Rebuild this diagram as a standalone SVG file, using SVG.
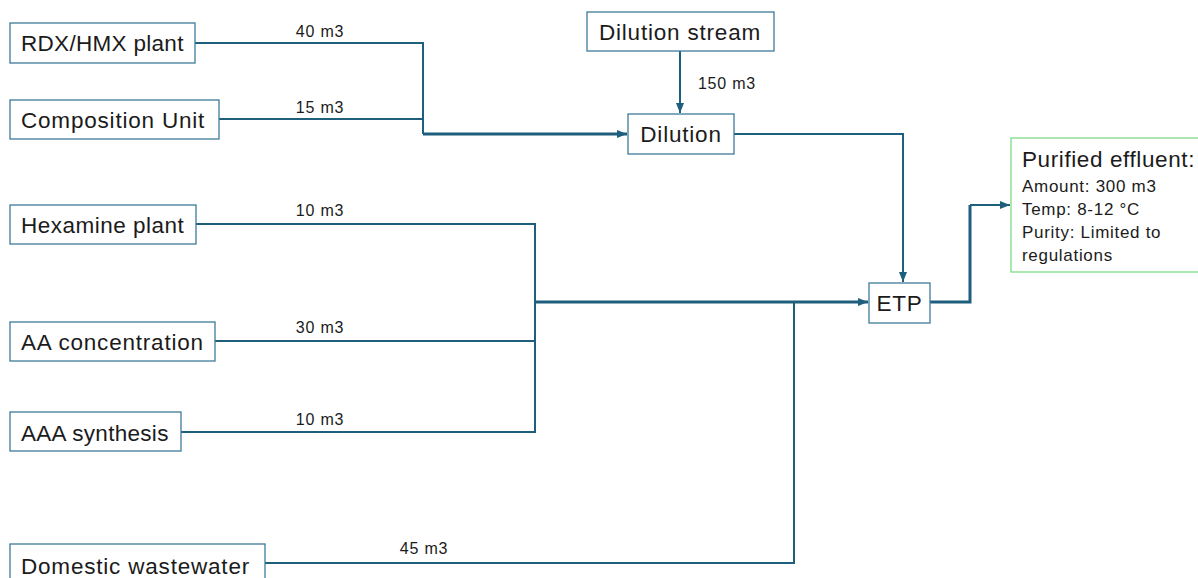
<svg xmlns="http://www.w3.org/2000/svg" width="1198" height="578" viewBox="0 0 1198 578">
<style>
.box{fill:#fff;stroke:#3e7a98;stroke-width:1.3}
.gbox{fill:#fff;stroke:#7ddc86;stroke-width:1.3}
.t{font-family:"Liberation Sans",Arial,sans-serif;font-size:22.5px;letter-spacing:0.8px;fill:#1b1b1b}
.s{font-family:"Liberation Sans",Arial,sans-serif;font-size:16px;letter-spacing:0.8px;fill:#1b1b1b}
.p{font-family:"Liberation Sans",Arial,sans-serif;font-size:17px;letter-spacing:0.7px;fill:#1b1b1b}
.ln{fill:none;stroke:#1f5f7e;stroke-width:2}
.lm{fill:none;stroke:#1f5f7e;stroke-width:3}
</style>
<defs>
<marker id="a" viewBox="0 0 10 10" refX="10" refY="5" markerWidth="10" markerHeight="10" orient="auto" markerUnits="userSpaceOnUse">
<path d="M0,1 L10,5 L0,9 z" fill="#1f5f7e"/>
</marker>
</defs>
<rect width="1198" height="578" fill="#fff"/>
<g id="connectors">
<polyline class="ln" points="195,43 423,43 423,134"/>
<polyline class="ln" points="219,119 423,119"/>
<polyline class="lm" points="423,134 627,134" marker-end="url(#a)"/>
<polyline class="ln" points="680,51 680,113" marker-end="url(#a)"/>
<polyline class="ln" points="734,134 903,134 903,282" marker-end="url(#a)"/>
<polyline class="ln" points="196,224 535,224 535,432 181,432"/>
<polyline class="ln" points="215,341 535,341"/>
<polyline class="lm" points="535,302 868,302" marker-end="url(#a)"/>
<polyline class="ln" points="265,563 794,563 794,302"/>
<polyline class="lm" points="930,302 970,302 970,205"/>
<polyline class="ln" points="970,205 1010,205" marker-end="url(#a)"/>
<text class="s" x="320" y="37" text-anchor="middle">40 m3</text>
<text class="s" x="320" y="113" text-anchor="middle">15 m3</text>
<text class="s" x="727" y="89" text-anchor="middle">150 m3</text>
<text class="s" x="320" y="216" text-anchor="middle">10 m3</text>
<text class="s" x="320" y="333" text-anchor="middle">30 m3</text>
<text class="s" x="320" y="425" text-anchor="middle">10 m3</text>
<text class="s" x="424" y="554" text-anchor="middle">45 m3</text>
</g>
<g id="rdx"><rect class="box" x="10" y="23" width="185" height="40"/><text class="t" x="21" y="51" style="letter-spacing:0.3px">RDX/HMX plant</text></g>
<g id="comp"><rect class="box" x="10" y="100" width="209" height="39"/><text class="t" x="21" y="128">Composition Unit</text></g>
<g id="dilstream"><rect class="box" x="587" y="12" width="187" height="39"/><text class="t" x="680" y="40" text-anchor="middle">Dilution stream</text></g>
<g id="dilution"><rect class="box" x="628" y="114" width="106" height="40"/><text class="t" x="681" y="142" text-anchor="middle">Dilution</text></g>
<g id="hex"><rect class="box" x="10" y="205" width="186" height="39"/><text class="t" x="21" y="233" style="letter-spacing:0.5px">Hexamine plant</text></g>
<g id="aa"><rect class="box" x="10" y="322" width="205" height="39"/><text class="t" x="21" y="350">AA concentration</text></g>
<g id="aaa"><rect class="box" x="10" y="412" width="171" height="39"/><text class="t" x="21" y="441" style="letter-spacing:0.3px">AAA synthesis</text></g>
<g id="dom"><rect class="box" x="10" y="544" width="255" height="40"/><text class="t" x="21" y="574">Domestic wastewater</text></g>
<g id="etp"><rect class="box" x="869" y="283" width="61" height="40"/><text class="t" x="899.5" y="311" text-anchor="middle">ETP</text></g>
<g id="purified"><rect class="gbox" x="1011" y="138" width="195" height="134"/>
<text class="t" x="1022" y="167" style="letter-spacing:0.6px">Purified effluent:</text>
<text class="p" x="1022" y="192">Amount: 300 m3</text>
<text class="p" x="1022" y="215">Temp: 8-12 °C</text>
<text class="p" x="1022" y="238">Purity: Limited to</text>
<text class="p" x="1022" y="261">regulations</text>
</g>
</svg>
